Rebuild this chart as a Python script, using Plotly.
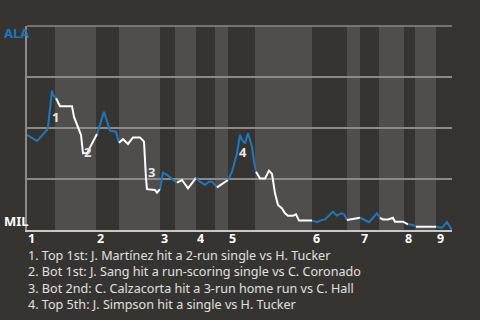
import plotly.graph_objects as go

# Game progress units (0..425), win probability for ALA (0 = MIL wins, 1 = ALA wins)
progress = [0, 10, 20, 21, 25, 26,
            29, 33, 45, 47, 54, 56, 60, 70,
            77, 83, 89, 92,
            96, 101, 106, 113, 117, 119, 120, 128, 130, 133,
            136, 140, 146, 150,
            155, 161, 169,
            173, 178, 182, 185, 190,
            195, 201,
            205, 210, 213, 215, 218, 221, 225, 227, 229,
            233, 238, 242, 245, 248, 251, 255, 258, 261, 266, 269, 272, 285,
            290, 293, 298, 306, 310, 314, 317, 320,
            325, 329, 333,
            342, 350, 353,
            356, 361, 366, 368, 376,
            381, 386, 389,
            409,
            415, 420, 425]
win_prob = [0.466, 0.436, 0.490, 0.506, 0.683, 0.662,
            0.646, 0.607, 0.607, 0.554, 0.466, 0.376, 0.377, 0.471,
            0.580, 0.487, 0.482, 0.428,
            0.445, 0.422, 0.454, 0.454, 0.433, 0.253, 0.200, 0.196, 0.183, 0.200,
            0.281, 0.270, 0.245, 0.232,
            0.245, 0.204, 0.256,
            0.237, 0.221, 0.237, 0.237, 0.209,
            0.225, 0.245,
            0.286, 0.376, 0.466, 0.441, 0.425, 0.474, 0.408, 0.335, 0.286,
            0.253, 0.253, 0.291, 0.275, 0.180, 0.123, 0.106, 0.082, 0.070, 0.070, 0.077, 0.046, 0.046,
            0.038, 0.046, 0.052, 0.090, 0.070, 0.082, 0.078, 0.049,
            0.052, 0.057, 0.060,
            0.038, 0.082, 0.060,
            0.052, 0.052, 0.060, 0.041, 0.041,
            0.028, 0.025, 0.016,
            0.016,
            0.011, 0.038, 0.0]

# half-inning boundaries (top 1st ... top 9th, end)
half_bounds = [0, 28, 69, 92, 133, 148, 169, 188, 201, 228, 285, 320, 333, 352, 377, 388, 409, 425]
innings = ["1", "2", "3", "4", "5", "6", "7", "8", "9"]

events_x = [28, 60, 124, 216]
events_y = [0.555, 0.38, 0.283, 0.38]
events_lbl = ["1", "2", "3", "4"]
notes = [
    "1. Top 1st: J. Martínez hit a 2-run single vs H. Tucker",
    "2. Bot 1st: J. Sang hit a run-scoring single vs C. Coronado",
    "3. Bot 2nd: C. Calzacorta hit a 3-run home run vs C. Hall",
    "4. Top 5th: J. Simpson hit a single vs H. Tucker",
]

BG = "#363430"
BAND = "#4f4e4c"
BLUE = "#1f78bd"
GRID = "#8a8a88"
FONT = "Noto Sans"

fig = go.Figure()

shapes = []
for i in range(len(half_bounds) - 1):
    if i % 2 == 1:
        shapes.append(dict(type="rect", xref="x", yref="paper", x0=half_bounds[i], x1=half_bounds[i + 1],
                           y0=0, y1=1, fillcolor=BAND, line=dict(width=0), layer="below"))
# top border gridline
shapes.append(dict(type="line", xref="paper", yref="paper", x0=0, x1=1, y0=1, y1=1,
                   line=dict(color=GRID, width=1.5), layer="above"))

# line segments per half inning
for i in range(len(half_bounds) - 1):
    a, b = half_bounds[i], half_bounds[i + 1]
    xs, ys = [], []
    for x, y in zip(progress, win_prob):
        if a <= x < b or (i == len(half_bounds) - 2 and x == b):
            xs.append(x)
            ys.append(y)
    last_idx = progress.index(xs[-1])
    if last_idx + 1 < len(progress):
        xs.append(progress[last_idx + 1])
        ys.append(win_prob[last_idx + 1])
    fig.add_trace(go.Scatter(x=xs, y=ys, mode="lines",
                             line=dict(color=BLUE if i % 2 == 0 else "#ffffff", width=2),
                             hoverinfo="skip", showlegend=False))

annotations = []
for x, y, t in zip(events_x, events_y, events_lbl):
    annotations.append(dict(x=x, y=y, xref="x", yref="y", text="<b>" + t + "</b>", showarrow=False,
                            font=dict(family=FONT, size=13, color="#e6e6e6")))
for k, inn in enumerate(innings):
    annotations.append(dict(x=half_bounds[2 * k], y=0, xref="x", yref="paper", yshift=-8.5,
                            xanchor="left", xshift=-1, yanchor="middle", height=13, text="<b>" + inn + "</b>",
                            showarrow=False, font=dict(family=FONT, size=12.5, color="#ffffff")))
annotations.append(dict(x=-25 / 425, y=1, xref="paper", yref="paper", xanchor="left", yanchor="middle",
                        xshift=0, yshift=-7, text="<b>ALA</b>", showarrow=False,
                        font=dict(family=FONT, size=13, color=BLUE)))
annotations.append(dict(x=-25 / 425, y=0, xref="paper", yref="paper", xanchor="left", yanchor="middle",
                        xshift=0, yshift=9, text="<b>MIL</b>", showarrow=False,
                        font=dict(family=FONT, size=13, color="#ffffff")))
annotations.append(dict(x=0, y=0, xref="paper", yref="paper", xanchor="left", yanchor="middle",
                        align="left", yshift=-49.6, xshift=-1, text="<br>".join(notes), showarrow=False,
                        font=dict(family=FONT, size=12.6, color="#e0e0e0")))

fig.update_layout(
    width=480, height=320,
    margin=dict(l=27, r=28, t=26, b=90),
    paper_bgcolor=BG, plot_bgcolor=BG,
    shapes=shapes, annotations=annotations,
    xaxis=dict(range=[0, 425], showgrid=False, zeroline=False, showticklabels=False,
               showline=True, linecolor="#c8c8c8", linewidth=2, ticks=""),
    yaxis=dict(range=[0, 1], dtick=0.25, showgrid=True, gridcolor=GRID, gridwidth=1.5,
               zeroline=False, showticklabels=False, showline=True, linecolor=GRID, linewidth=1.5,
               ticks=""),
)
fig.write_html("out.html")
